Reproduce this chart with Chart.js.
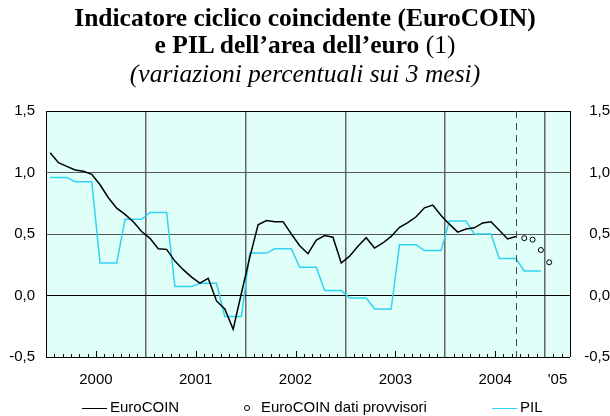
<!DOCTYPE html>
<html>
<head>
<meta charset="utf-8">
<script src="https://cdn.jsdelivr.net/npm/chart.js@4"></script>
<style>
  body { margin: 0; background: #fff; }
  #wrap { position: relative; width: 610px; height: 416px; }
  #chart { position: absolute; left: 0; top: 0; }
  .title { position: absolute; left: 0; width: 610px; text-align: center; line-height: 29px;
           font-family: "Liberation Serif", "Times New Roman", serif; font-size: 25.5px; color: #000; }
  .legend { position: absolute; top: 398px; font-family: "Liberation Sans", Arial, sans-serif;
            font-size: 15px; color: #000; white-space: nowrap; }
  .legend .ln { display: inline-block; width: 25px; height: 0; border-top: 1.5px solid #000; vertical-align: middle; margin-right: 3px; }
  .legend .dot { display: inline-block; width: 4px; height: 4px; border: 1px solid #000; border-radius: 50%; vertical-align: middle; margin-right: 11px; }
</style>
</head>
<body>
<div id="wrap">
  <canvas id="chart" width="610" height="416"></canvas>
  <div class="title" style="top:3px;font-weight:bold">Indicatore ciclico coincidente (EuroCOIN)</div>
  <div class="title" style="top:30px"><b>e PIL dell’area dell’euro</b> (1)</div>
  <div class="title" style="top:59px;font-style:italic">(variazioni percentuali sui 3 mesi)</div>
  <div class="legend" style="left:82px"><span class="ln"></span>EuroCOIN</div>
  <div class="legend" style="left:244px"><span class="dot"></span>EuroCOIN dati provvisori</div>
  <div class="legend" style="left:492px"><span class="ln" style="border-color:#2fd3f5"></span>PIL</div>
</div>
<script>
// dati mensili da gennaio 2000
const startYear = 2000;
const yearLabels = ['2000', '2001', '2002', '2003', '2004', "'05"];
const yTicks = [-0.5, 0, 0.5, 1, 1.5];

// EuroCOIN (gen 2000 - set 2004)
const euroCoin = [
  1.16, 1.08, 1.05, 1.02, 1.01, 0.985, 0.90, 0.795, 0.71, 0.66, 0.60, 0.52,
  0.465, 0.38, 0.375, 0.28, 0.21, 0.15, 0.10, 0.14, -0.044, -0.11, -0.275, 0.02,
  0.31, 0.575, 0.61, 0.60, 0.60, 0.50, 0.405, 0.34, 0.45, 0.487, 0.474, 0.264,
  0.32, 0.40, 0.47, 0.386, 0.427, 0.48, 0.555, 0.593, 0.64, 0.713, 0.735, 0.65,
  0.58, 0.515, 0.54, 0.55, 0.59, 0.60, 0.53, 0.46, 0.48
];

// EuroCOIN dati provvisori (ott 2004 - gen 2005)
const euroCoinProvv = [0.466, 0.454, 0.37, 0.27];

// PIL trimestrale ripetuto sui mesi (gen 2000 - dic 2004)
const pil = [
  0.96, 0.96, 0.96, 0.925, 0.925, 0.925, 0.264, 0.264, 0.264, 0.62, 0.62, 0.62,
  0.675, 0.675, 0.675, 0.073, 0.073, 0.073, 0.10, 0.10, 0.10, -0.17, -0.17, -0.17,
  0.345, 0.345, 0.345, 0.38, 0.38, 0.38, 0.23, 0.23, 0.23, 0.04, 0.04, 0.04,
  -0.02, -0.02, -0.02, -0.11, -0.11, -0.11, 0.413, 0.413, 0.413, 0.365, 0.365, 0.365,
  0.605, 0.605, 0.605, 0.50, 0.50, 0.50, 0.30, 0.30, 0.30, 0.20, 0.20, 0.20
];

const totalMonths = 63; // gen 2000 - mar 2005

// punti al centro del mese
function toPoints(values, offset = 0) {
  return values.map((v, i) => ({ x: offset + i + 0.5, y: v }));
}

// posizione delle etichette degli anni
function yearLabelPos(k) {
  const from = k * 12;
  const to = Math.min(from + 12, totalMonths);
  return (from + to) / 2;
}

const labelAt = {};
yearLabels.forEach((lab, k) => { labelAt[yearLabelPos(k)] = lab; });

// sfondo, tacche interne e linea tratteggiata
const decor = {
  id: 'decor',
  beforeDraw(chart) {
    const { ctx, chartArea: a } = chart;
    ctx.save();
    ctx.fillStyle = '#e0fff8';
    ctx.fillRect(a.left, a.top, a.right - a.left, a.bottom - a.top);
    ctx.restore();
  },
  afterDatasetsDraw(chart) {
    const { ctx, chartArea: a, scales } = chart;
    const x = scales.x;
    ctx.save();
    ctx.strokeStyle = '#000';
    ctx.lineWidth = 1;
    for (let m = 1; m < totalMonths; m++) {
      if (m % 12 === 0) continue;
      const px = Math.round(x.getPixelForValue(m)) + 0.5;
      const h = m % 12 === 6 ? 6 : 3;
      ctx.beginPath();
      ctx.moveTo(px, a.bottom);
      ctx.lineTo(px, a.bottom - h);
      ctx.stroke();
    }
    // fine dei dati definitivi
    const dx = Math.round(x.getPixelForValue(euroCoin.length - 0.5)) + 0.5;
    ctx.strokeStyle = '#444';
    ctx.setLineDash([7, 5]);
    ctx.beginPath();
    ctx.moveTo(dx, a.top);
    ctx.lineTo(dx, a.bottom);
    ctx.stroke();
    ctx.restore();
  }
};

const tickFont = { family: '"Liberation Sans", Arial, sans-serif', size: 15 };
const fmt = v => String(v.toFixed(1)).replace('.', ',');

new Chart(document.getElementById('chart'), {
  type: 'line',
  data: {
    datasets: [
      {
        label: 'EuroCOIN',
        data: toPoints(euroCoin),
        borderColor: '#000',
        borderWidth: 1.5,
        pointRadius: 0,
        tension: 0
      },
      {
        label: 'EuroCOIN dati provvisori',
        data: toPoints(euroCoinProvv, euroCoin.length),
        showLine: false,
        pointRadius: 2.5,
        pointBorderColor: '#000',
        pointBackgroundColor: 'rgba(0,0,0,0)',
        pointBorderWidth: 1
      },
      {
        label: 'PIL',
        data: toPoints(pil),
        borderColor: '#2fd3f5',
        borderWidth: 1.5,
        pointRadius: 0,
        tension: 0
      }
    ]
  },
  plugins: [decor],
  options: {
    responsive: false,
    animation: false,
    events: [],
    layout: { padding: { top: 111, left: 0, right: 0, bottom: 0 } },
    plugins: {
      legend: { display: false },
      tooltip: { enabled: false }
    },
    scales: {
      x: {
        type: 'linear',
        min: 0,
        max: totalMonths,
        afterBuildTicks(scale) {
          const vals = [];
          for (let k = 0; k * 12 <= totalMonths; k++) vals.push(k * 12);
          vals.push(totalMonths);
          Object.keys(labelAt).forEach(v => vals.push(Number(v)));
          scale.ticks = [...new Set(vals)].sort((a, b) => a - b).map(v => ({ value: v }));
        },
        afterFit(scale) { scale.height = 59; },
        ticks: {
          autoSkip: false,
          maxRotation: 0,
          padding: 14,
          font: tickFont,
          color: '#000',
          callback: v => labelAt[v] || ''
        },
        border: { display: false },
        grid: {
          drawTicks: false,
          color: c => {
            const v = c.tick.value;
            if (v === 0 || v === totalMonths) return '#000';
            return v % 12 === 0 ? '#666' : 'rgba(0,0,0,0)';
          },
          lineWidth: c => (c.tick.value % 12 === 0 && c.tick.value !== 0 ? 1.5 : 1)
        }
      },
      y: {
        min: -0.5,
        max: 1.5,
        afterBuildTicks(scale) { scale.ticks = yTicks.map(v => ({ value: v })); },
        afterFit(scale) { scale.width = 46; },
        ticks: { padding: 11, font: tickFont, color: '#000', callback: fmt },
        border: { display: false },
        grid: {
          drawTicks: false,
          color: c => (c.tick.value === 0 || c.tick.value === 1.5 || c.tick.value === -0.5 ? '#000' : '#555')
        }
      },
      y2: {
        position: 'right',
        min: -0.5,
        max: 1.5,
        afterBuildTicks(scale) { scale.ticks = yTicks.map(v => ({ value: v })); },
        afterFit(scale) { scale.width = 40; },
        ticks: { padding: 11, font: tickFont, color: '#000', crossAlign: 'far', callback: fmt },
        border: { display: false },
        grid: { display: false, drawTicks: false }
      }
    }
  }
});
</script>
</body>
</html>
